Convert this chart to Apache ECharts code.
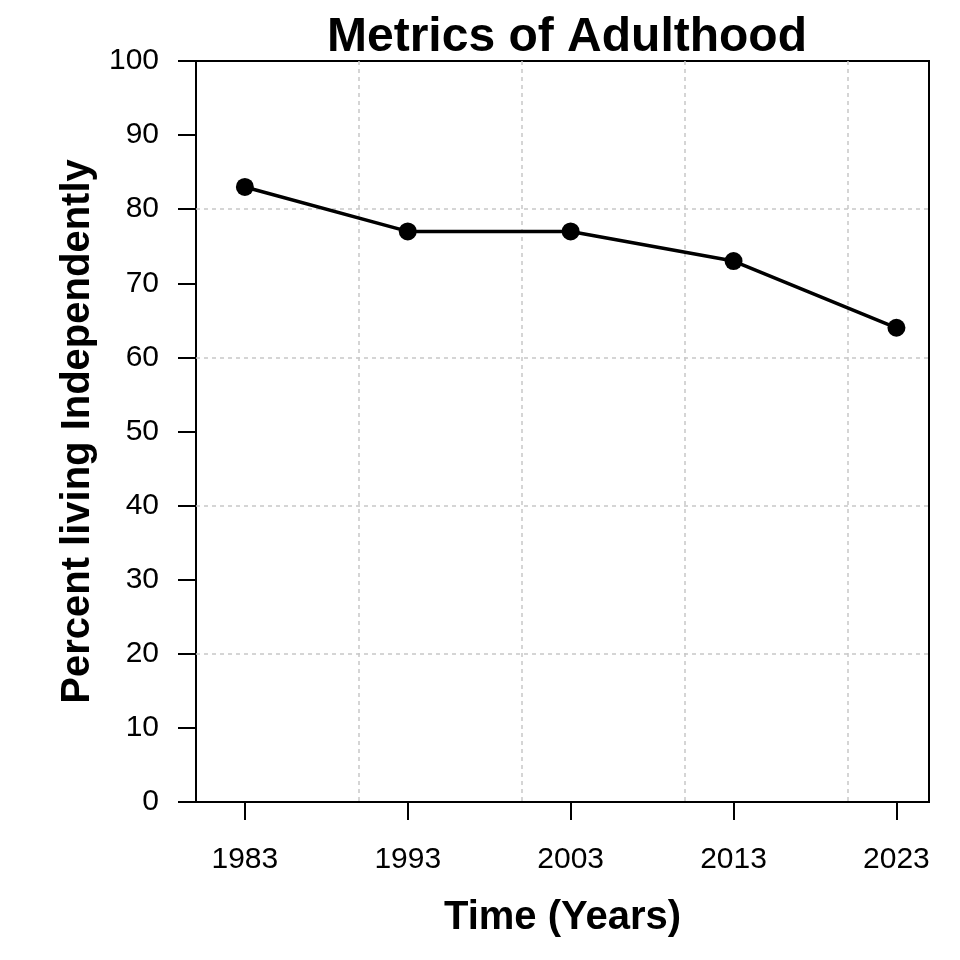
<!DOCTYPE html>
<html><head><meta charset="utf-8">
<script src="https://cdn.jsdelivr.net/npm/echarts@6/dist/echarts.min.js"></script>
<style>html,body{margin:0;padding:0;background:#fff}#c{width:960px;height:960px}</style>
</head><body><div id="c"></div>
<script>
var years = [1983, 1993, 2003, 2013, 2023];
var percent = [83, 77, 77, 73, 64];
var xTickLabels = [1983, 1993, 2003, 2013, 2023];
var title = 'Metrics of Adulthood';
var xName = 'Time (Years)';
var yName = 'Percent living Independently';

var chart = echarts.init(document.getElementById('c'), null, {renderer: 'canvas'});
var font = 'Liberation Sans, Arial, Helvetica, sans-serif';
var gridLine = {show: true, showMinLine: false, showMaxLine: false,
  lineStyle: {color: '#c8c8c8', width: 1.5, type: [4, 4]}};
chart.setOption({
  animation: false,
  backgroundColor: '#fff',
  title: {text: title, left: 562, top: 9, textAlign: 'center',
    textStyle: {fontFamily: font, fontWeight: 'bold', fontSize: 48, color: '#000'}},
  grid: {left: 196, right: 31, top: 61, bottom: 158, show: true, borderColor: '#000', borderWidth: 2, backgroundColor: 'transparent'},
  xAxis: [{
    type: 'value', min: 1980, max: 2025, interval: 10,
    splitLine: {show: false},
    axisLine: {show: false},
    axisTick: {show: true, length: 18, inside: false, customValues: xTickLabels, lineStyle: {color: '#000', width: 2}},
    axisLabel: {show: true, customValues: xTickLabels, margin: 43, fontFamily: font, fontSize: 30, color: '#000',
      formatter: function (v) { return String(v); }},
    name: xName, nameLocation: 'middle', nameGap: 96,
    nameTextStyle: {fontFamily: font, fontWeight: 'bold', fontSize: 40, color: '#000'}
  }, {
    type: 'value', min: 1980, max: 2025, interval: 10, position: 'bottom',
    splitLine: gridLine, axisLine: {show: false}, axisTick: {show: false}, axisLabel: {show: false}
  }],
  yAxis: [{
    type: 'value', min: 0, max: 100, interval: 10,
    splitLine: {show: false},
    axisLine: {show: false},
    axisTick: {show: true, length: 18, lineStyle: {color: '#000', width: 2}},
    axisLabel: {margin: 37, fontFamily: font, fontSize: 30, color: '#000'},
    name: yName, nameLocation: 'middle', nameGap: 94,
    nameTextStyle: {fontFamily: font, fontWeight: 'bold', fontSize: 40, color: '#000'}
  }, {
    type: 'value', min: 0, max: 100, interval: 20, position: 'left',
    splitLine: gridLine, axisLine: {show: false}, axisTick: {show: false}, axisLabel: {show: false}
  }],
  series: [{
    type: 'line', data: years.map(function (y, i) { return [y, percent[i]]; }),
    lineStyle: {color: '#000', width: 3.5}, itemStyle: {color: '#000'},
    symbol: 'circle', symbolSize: 18, z: 5
  }]
});
</script></body></html>
